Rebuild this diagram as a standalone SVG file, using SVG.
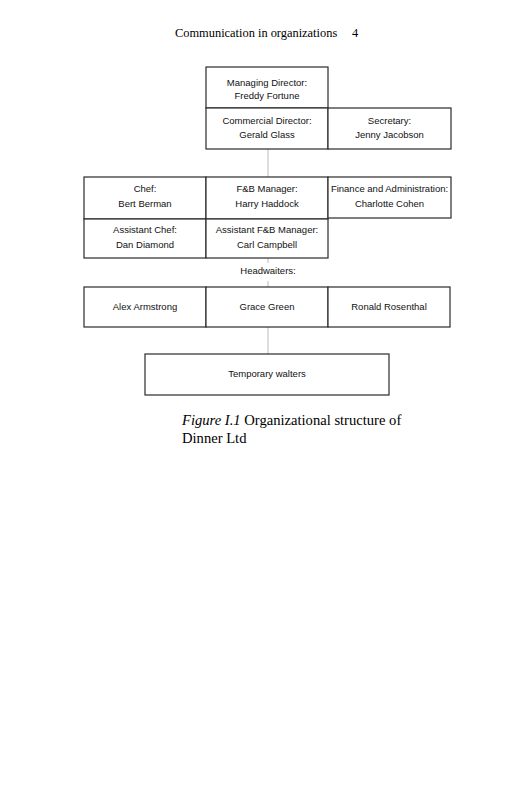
<svg xmlns="http://www.w3.org/2000/svg" width="531" height="800" viewBox="0 0 531 800">
<style>
.bg{fill:#fff}
.box{fill:#fff;stroke:#2a2a2a;stroke-width:1.2}
.t{font-family:"Liberation Sans",Arial,sans-serif;font-size:9.5px;fill:#111;text-anchor:middle}
.c{stroke:#bbb;stroke-width:1;fill:none}
.serif{font-family:"Liberation Serif","Times New Roman",serif;fill:#000}
</style>
<rect class="bg" x="0" y="0" width="531" height="800"/>
<text class="serif" x="175" y="37" font-size="12.4">Communication in organizations</text>
<text class="serif" x="352" y="37" font-size="12.4">4</text>
<g id="connectors">
<line class="c" x1="268" y1="149" x2="268" y2="177"/>
<line class="c" x1="268" y1="258" x2="268" y2="263"/>
<line class="c" x1="268" y1="281" x2="268" y2="287"/>
<line class="c" x1="268" y1="327" x2="268" y2="354"/>
</g>
<g id="managing-director">
<rect class="box" x="206" y="67" width="122" height="41"/>
<text class="t" x="267" y="86">Managing Director:</text>
<text class="t" x="267" y="99">Freddy Fortune</text>
</g>
<g id="commercial-director">
<rect class="box" x="206" y="108" width="122" height="41"/>
<text class="t" x="267" y="124">Commercial Director:</text>
<text class="t" x="267" y="138">Gerald Glass</text>
</g>
<g id="secretary">
<rect class="box" x="328" y="108" width="123" height="41"/>
<text class="t" x="389.5" y="124">Secretary:</text>
<text class="t" x="389.5" y="138">Jenny Jacobson</text>
</g>
<g id="chef">
<rect class="box" x="84" y="177" width="122" height="42"/>
<text class="t" x="145" y="192">Chef:</text>
<text class="t" x="145" y="207">Bert Berman</text>
</g>
<g id="fb-manager">
<rect class="box" x="206" y="177" width="122" height="42"/>
<text class="t" x="267" y="192">F&amp;B Manager:</text>
<text class="t" x="267" y="207">Harry Haddock</text>
</g>
<g id="finance">
<rect class="box" x="328" y="177" width="123" height="41"/>
<text class="t" x="389.5" y="192">Finance and Administration:</text>
<text class="t" x="389.5" y="207">Charlotte Cohen</text>
</g>
<g id="assistant-chef">
<rect class="box" x="84" y="219" width="122" height="39"/>
<text class="t" x="145" y="233">Assistant Chef:</text>
<text class="t" x="145" y="248">Dan Diamond</text>
</g>
<g id="assistant-fb-manager">
<rect class="box" x="206" y="219" width="122" height="39"/>
<text class="t" x="267" y="233">Assistant F&amp;B Manager:</text>
<text class="t" x="267" y="248">Carl Campbell</text>
</g>
<g id="headwaiters-label">
<text class="t" x="268" y="274">Headwaiters:</text>
</g>
<g id="alex">
<rect class="box" x="84" y="287" width="122" height="40"/>
<text class="t" x="145" y="310">Alex Armstrong</text>
</g>
<g id="grace">
<rect class="box" x="206" y="287" width="122" height="40"/>
<text class="t" x="267" y="310">Grace Green</text>
</g>
<g id="ronald">
<rect class="box" x="328" y="287" width="122" height="40"/>
<text class="t" x="389" y="310">Ronald Rosenthal</text>
</g>
<g id="temporary-walters">
<rect class="box" x="145" y="354" width="244" height="41"/>
<text class="t" x="267" y="377">Temporary walters</text>
</g>
<text class="serif" x="182" y="425" font-size="14.6"><tspan font-style="italic">Figure I.1</tspan> Organizational structure of</text>
<text class="serif" x="182" y="443" font-size="14.6">Dinner Ltd</text>
</svg>
